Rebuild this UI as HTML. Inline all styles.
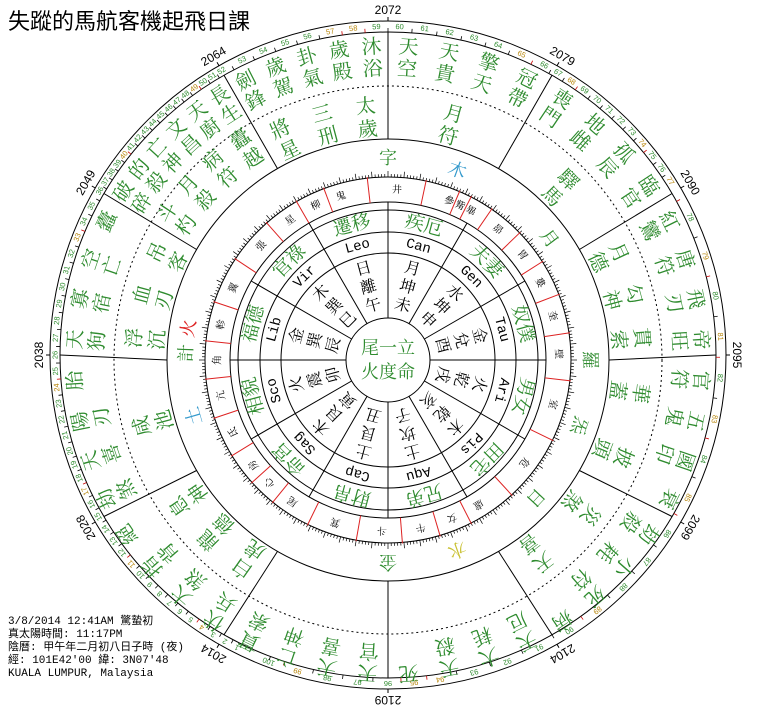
<!DOCTYPE html>
<html><head><meta charset="utf-8">
<style>
html,body{margin:0;padding:0;background:#fff;width:780px;height:723px;overflow:hidden}
svg{display:block}
</style></head>
<body>
<svg id="s" width="780" height="723" viewBox="0 0 780 723" xmlns="http://www.w3.org/2000/svg">
<rect width="780" height="723" fill="#fff"/>
<text x="8" y="29" font-size="22" font-family="'Liberation Sans','Noto Sans CJK TC',sans-serif" fill="#000">失蹤的馬航客機起飛日課</text>
<g font-size="11" font-family="'Liberation Mono','Noto Sans CJK TC',monospace" fill="#000">
<text x="8" y="624">3/8/2014 12:41AM 驚蟄初</text>
<text x="8" y="637">真太陽時間: 11:17PM</text>
<text x="8" y="650">陰曆: 甲午年二月初八日子時 (夜)</text>
<text x="8" y="663">經: 101E42'00  緯: 3N07'48</text>
<text x="8" y="676">KUALA LUMPUR, Malaysia</text>
</g>
</svg>
<script>
const NS='http://www.w3.org/2000/svg', s=document.getElementById('s');
const cx=388, cy=360;
const FC="'Liberation Serif','Noto Serif CJK SC','Noto Sans CJK TC',serif";
const G='#2e8b2e';
function el(tag,attrs,text){const e=document.createElementNS(NS,tag);for(const k in attrs)e.setAttribute(k,attrs[k]);if(text!=null)e.textContent=text;s.appendChild(e);return e;}
function P(r,a){const t=a*Math.PI/180;return [cx+r*Math.cos(t),cy-r*Math.sin(t)];}
function E(rx,ry,a){const t=a*Math.PI/180;return [388+rx*Math.cos(t),355-ry*Math.sin(t)];}
function txtAt(str,x,y,a,size,fill,fam){el('text',{x:x,y:y,'font-size':size,fill:fill,'text-anchor':'middle','dominant-baseline':'central','font-family':fam||FC,transform:`rotate(${90-a} ${x} ${y})`},str);}
function txt(str,r,a,size,fill,fam){const [x,y]=P(r,a);txtAt(str,x,y,a,size,fill,fam);}
function line(p,q,col,w,dash){const o={x1:p[0],y1:p[1],x2:q[0],y2:q[1],stroke:col||'#000','stroke-width':w||1};if(dash)o['stroke-dasharray']=dash;el('line',o);}
function circ(r,extra){const o={cx:cx,cy:cy,r:r,fill:'none',stroke:'#000','stroke-width':1};Object.assign(o,extra||{});el('circle',o);}

// outer tick ring (ellipse)
el('ellipse',{cx:388,cy:355,rx:338,ry:334,fill:'none',stroke:'#000','stroke-width':1});
el('ellipse',{cx:388,cy:355,rx:328,ry:323,fill:'none',stroke:'#000','stroke-width':1});
// rings
circ(221);
circ(274,{'stroke-dasharray':'2,3'});
[42,107,128,150,158,183].forEach(r=>circ(r));

// house lines
for(let k=0;k<12;k++){const a=k*30;line(P(221,a),E(328,323,a));}
// inner spokes
for(let k=0;k<12;k++){const a=k*30;line(P(42,a),P(158,a));}

// degree ticks on r183
for(let d=0;d<360;d++){const L=d%5==0?6:3;line(P(183,d),P(183+L,d),'#000',0.7);}

// age numbers in tick ring
const anc=[[243,1],[222,10],[197,20],[180,26],[150,36],[120,52],[88,60],[62,66],[32,77],[-4,82],[-33,86],[-57,90],[-81,94],[-90,96],[-111,100]];
function angOf(n){for(let i=0;i<anc.length-1;i++){const [a0,n0]=anc[i],[a1,n1]=anc[i+1];if(n>=n0&&n<=n1)return a0+(a1-a0)*(n-n0)/(n1-n0);}return anc[anc.length-1][0];}
const reds=[4,11,17,24,33,40,49,57,58,65,68,74,77,79,81,83,85,89,94,95,99];
for(let n=1;n<=100;n++){
  const a=angOf(n);const [x,y]=E(333,328.5,a);
  txtAt(String(n),x,y,a,7.5,reds.includes(n)?'#b8860b':G,"'Liberation Sans',sans-serif");
  const b=angOf(n+0.5);
  line(E(328,323,b),E(332,327,b),reds.includes(n)?'#c00':'#000',0.8);
}
// year labels
[[90,'2072'],[60,'2079'],[30,'2090'],[0,'2095'],[-30,'2099'],[-60,'2104'],[-90,'2109'],[240,'2014'],[210,'2028'],[180,'2038'],[150,'2049'],[120,'2064']].forEach(([a,t])=>{
  const [x,y]=E(349,345,a);txtAt(t,x,y,a,12,'#000',"'Liberation Sans',sans-serif");
  line(E(338,334,a),E(342,338,a));
});

// houses
const H=[
 [0,['紅鸞','唐符','飛刃','帝旺'],['月德','勾神','貫索']],
 [330,['官符','五鬼','國印','衰'],['華蓋','披頭']],
 [300,['劫殺','小耗','死符','病'],['災煞','天喜']],
 [270,['天厄','大耗','天殺','死'],[]],
 [240,['天官','天喜','亡神','貫索'],[]],
 [210,['伏兵','大煞','指背','絕'],['白虎','龍德','息神']],
 [180,['劫煞','天喜','陽刃','胎'],['咸池']],
 [150,['天狗','寡宿','空亡','蠹'],['浮沉','血刃','吊客']],
 [120,['破碎','的殺','亡神','文昌','天廚','長生'],['斗杓','月殺','病符','蠹越']],
 [90,['劍鋒','歲駕','卦氣','歲殿','沐浴'],['將星','三刑','太歲']],
 [60,['天空','天貴','擎天','冠帶'],['月符']],
 [30,['喪門','地雌','孤辰','臨官'],['驛馬']]
];
H.forEach(([a,out,inn])=>{
  const n=out.length;
  out.forEach((c,i)=>{const ang=a+30-(i+0.5)*30/n;const rr=[313,291];[...c].forEach((ch,j)=>txt(ch,rr[j],ang,20,G));});
  const m=inn.length;
  const rin=a==120?[265,242]:[254,231];
  inn.forEach((c,i)=>{const ang=a+30-(i+0.5)*30/m;[...c].forEach((ch,j)=>txt(ch,rin[j],ang,20,G));});
});

// planet ring
[['字',90,G],['木',70,'#3399cc'],['月',37,G],['羅',0,G],['炁',-19,G],['日',-43,G],['水',-70,'#c8c030'],['金',270,G],['土',196,'#3399cc'],['計',178,G],['火',171,'#d22']].forEach(([c,a,col])=>txt(c,202,a,18,col));

// mansions
const M=[['角',180],['亢',192],['氐',205],['房',218],['心',226],['尾',236],['箕',252],['斗',268],['牛',281],['女',292],['虛',302],['危',323],['室',345],['壁',2],['奎',15],['婁',27],['胃',38],['昴',50],['畢',61],['觜',65],['參',69],['井',87],['鬼',106],['柳',115],['星',125],['張',138],['翼',155],['軫',168]];
M.forEach(([c,a])=>txt(c,170,a,10,'#000'));
const ma=M.map(m=>((m[1]%360)+360)%360).sort((x,y)=>x-y);
for(let i=0;i<ma.length;i++){let a0=ma[i],a1=ma[(i+1)%ma.length];if(a1<a0)a1+=360;const b=(a0+a1)/2;line(P(158,b),P(184,b),'#d22',1);}

// palace ring
[['奴僕',15],['夫妻',45],['疾厄',75],['遷移',105],['官祿',135],['福德',165],['相貌',195],['命宮',225],['財帛',255],['兄弟',285],['田宅',315],['男女',345]].forEach(([t,a])=>txt(t,139,a,19,G));
// zodiac ring
[['Tau',15],['Gen',45],['Can',75],['Leo',105],['Vir',135],['Lib',165],['Sco',195],['Sag',225],['Cap',255],['Aqu',285],['Pis',315],['Ari',345]].forEach(([t,a])=>txt(t,117,a,14,'#000',"'Liberation Mono',monospace"));
// stem ring
[['金兌酉',15],['水坤申',45],['月坤未',75],['日離午',105],['木巽巳',135],['金巽辰',165],['火震卯',195],['木艮寅',225],['土艮丑',255],['土坎子',285],['木乾亥',315],['火乾戌',345]].forEach(([t,a])=>{[...t].forEach((ch,j)=>txt(ch,94-j*19,a,16,'#000'));});
// center
el('text',{x:cx,y:cy-12,'font-size':18,fill:G,'text-anchor':'middle','dominant-baseline':'central','font-family':FC},'尾一立');
el('text',{x:cx,y:cy+12,'font-size':18,fill:G,'text-anchor':'middle','dominant-baseline':'central','font-family':FC},'火度命');
</script>
</body></html>
